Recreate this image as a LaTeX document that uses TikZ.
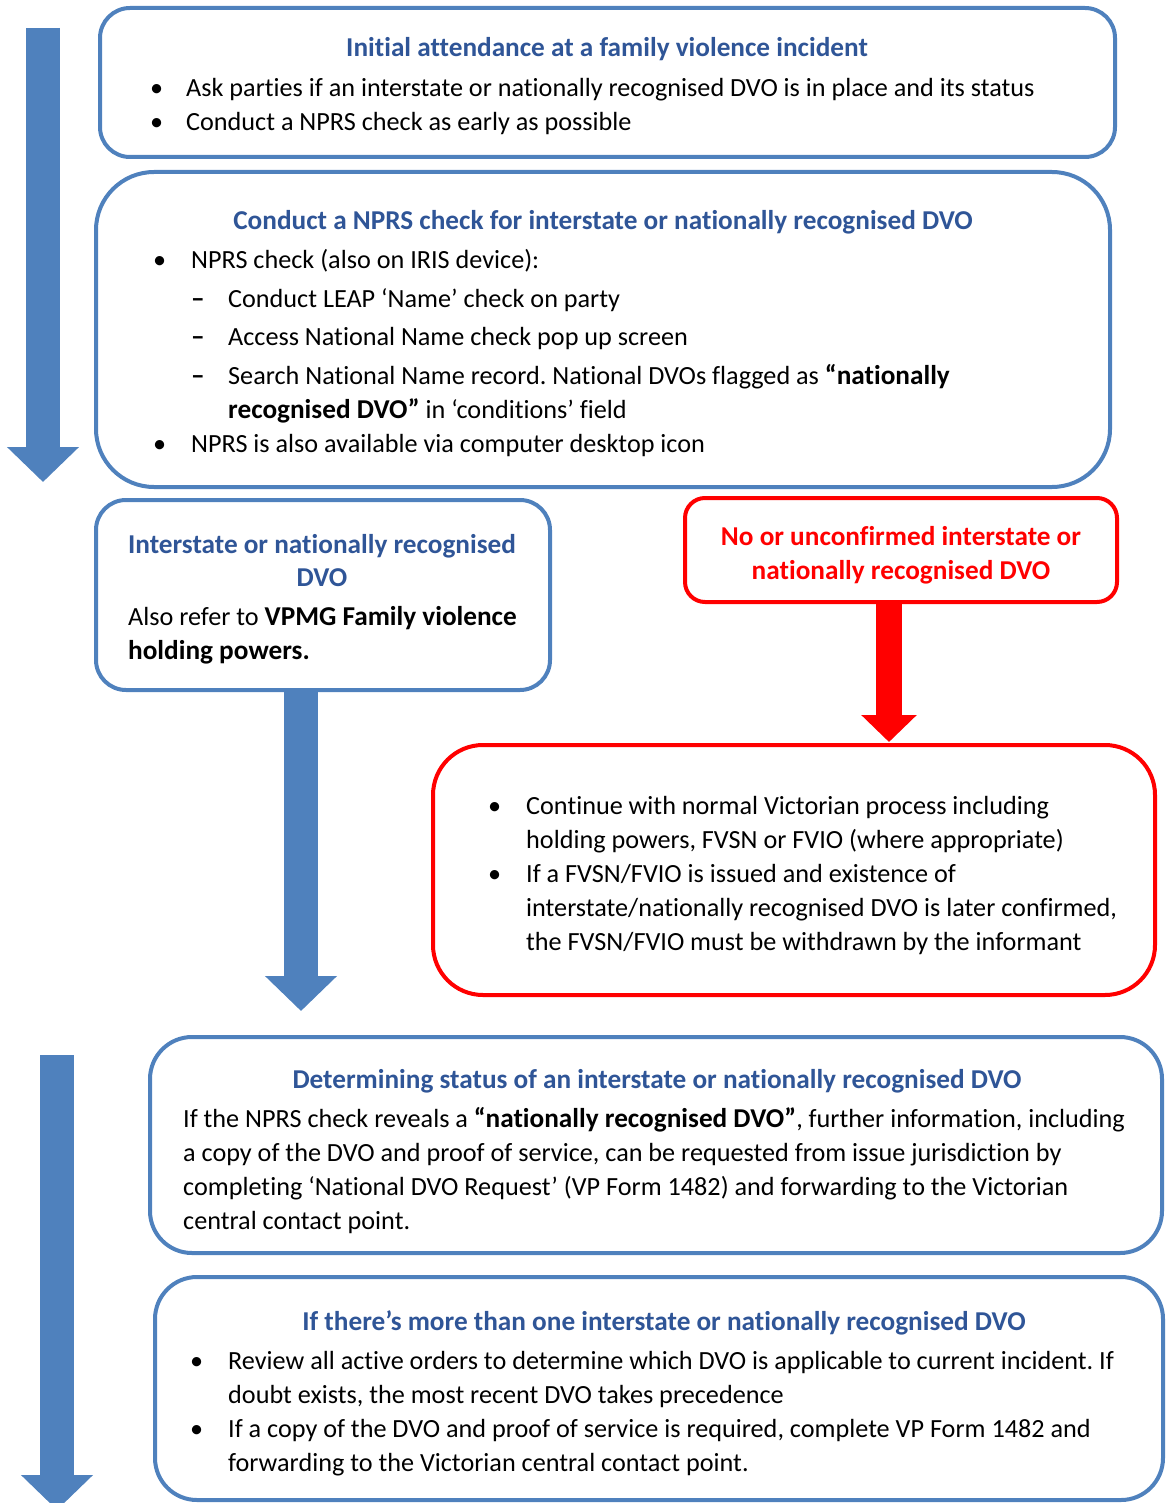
\documentclass[tikz,border=0pt]{standalone}
\usepackage{fontspec}
\setmainfont{Carlito}[Ligatures={NoCommon}, BoldFeatures={Scale=1.04}]
\usetikzlibrary{arrows.meta}
\frenchspacing

\definecolor{boxblue}{RGB}{79,129,189}
\definecolor{titleblue}{RGB}{47,85,151}
\definecolor{alertred}{RGB}{255,0,0}

\begin{document}
\begin{tikzpicture}[
        x=1pt, y=-1pt,
        every node/.style={font=\fontsize{26.2pt}{34pt}\selectfont, inner sep=0pt},
        bluebox/.style={
            draw=boxblue,
            line width=4pt,
            rounded corners=#1
        },
        bluebox/.default=30pt,
        redbox/.style={
            draw=alertred,
            line width=4pt,
            rounded corners=#1
        },
        redbox/.default=30pt,
        heading/.style={text=titleblue, font=\fontsize{26.2pt}{34pt}\selectfont\bfseries, anchor=base},
        redheading/.style={text=alertred, font=\fontsize{26.2pt}{34pt}\selectfont\bfseries, anchor=base},
        body/.style={anchor=base west},
        bluearrow/.style={draw=boxblue, line width=34pt, -{Triangle[length=35pt, width=70pt]}},
        redarrow/.style={draw=alertred, line width=26pt, -{Triangle[length=27pt, width=54pt]}}
    ]
    \useasboundingbox (0,0) rectangle (1167,1503);

    % Boxes
    \node[bluebox, minimum width=1015pt, minimum height=149pt] (attend) at (607.5,82.5) {};
    \node[bluebox=58pt, minimum width=1014pt, minimum height=315pt] (nprs) at (603,329.5) {};
    \node[bluebox, minimum width=454pt, minimum height=190pt] (found) at (323,595) {};
    \node[redbox=20pt, minimum width=432pt, minimum height=104pt] (nodvo) at (901,550) {};
    \node[redbox=50pt, minimum width=722pt, minimum height=250pt] (normal) at (794,870) {};
    \node[bluebox=42pt, minimum width=1012pt, minimum height=216pt] (status) at (656,1145) {};
    \node[bluebox=42pt, minimum width=1008pt, minimum height=223pt] (multi) at (659,1388.5) {};

    % Initial attendance
    \node[heading] (attendhead) at (607,57) {Initial attendance at a family violence incident};
    \node[body] (attendlist) at (150,97) {\begin{tabular}[t]{@{}p{36pt}@{}l@{}}
        \textbullet & Ask parties if an interstate or nationally recognised DVO is in place and its status\\
        \textbullet & Conduct a NPRS check as early as possible
    \end{tabular}};

    % NPRS check
    \node[heading] (nprshead) at (603,230) {Conduct a NPRS check for interstate or nationally recognised DVO};
    \node[body] (nprslist) at (153,269) {\begin{tabular}[t]{@{}p{38pt}@{}p{37pt}@{}l@{}}
        \textbullet & \multicolumn{2}{@{}l@{}}{NPRS check (also on IRIS device):}\\[5pt]
        & \textbf{–} & Conduct LEAP ‘Name’ check on party\\[4pt]
        & \textbf{–} & Access National Name check pop up screen\\[5pt]
        & \textbf{–} & Search National Name record. National DVOs flagged as \textbf{“nationally}\\
        & & \textbf{recognised DVO”} in ‘conditions’ field\\
        \textbullet & \multicolumn{2}{@{}l@{}}{NPRS is also available via computer desktop icon}
    \end{tabular}};

    % DVO found
    \node[heading] (foundhead) at (322,553) {\begin{tabular}[t]{@{}c@{}}
        Interstate or nationally recognised\\[-1pt]
        DVO
    \end{tabular}};
    \node[body] (foundtext) at (128,625) {\begin{tabular}[t]{@{}l@{}}
        Also refer to \textbf{VPMG Family violence}\\
        \textbf{holding powers.}
    \end{tabular}};

    % No DVO
    \node[redheading] (nodvohead) at (901,545) {\begin{tabular}[t]{@{}c@{}}
        No or unconfirmed interstate or\\
        nationally recognised DVO
    \end{tabular}};
    \node[body] (normallist) at (488,814) {\begin{tabular}[t]{@{}p{38pt}@{}l@{}}
        \textbullet & Continue with normal Victorian process including\\
        & holding powers, FVSN or FVIO (where appropriate)\\
        \textbullet & If a FVSN/FVIO is issued and existence of\\
        & interstate/nationally recognised DVO is later confirmed,\\
        & the FVSN/FVIO must be withdrawn by the informant
    \end{tabular}};

    % Determining status
    \node[heading] (statushead) at (657,1088) {Determining status of an interstate or nationally recognised DVO};
    \node[body] (statustext) at (183,1127) {\begin{tabular}[t]{@{}l@{}}
        If the NPRS check reveals a \textbf{“nationally recognised DVO”}, further information, including\\
        a copy of the DVO and proof of service, can be requested from issue jurisdiction by\\
        completing ‘National DVO Request’ (VP Form 1482) and forwarding to the Victorian\\
        central contact point.
    \end{tabular}};

    % More than one DVO
    \node[heading] (multihead) at (664,1330) {If there’s more than one interstate or nationally recognised DVO};
    \node[body] (multilist) at (190,1369) {\begin{tabular}[t]{@{}p{38pt}@{}l@{}}
        \textbullet & Review all active orders to determine which DVO is applicable to current incident. If\\
        & doubt exists, the most recent DVO takes precedence\\
        \textbullet & If a copy of the DVO and proof of service is required, complete VP Form 1482 and\\
        & forwarding to the Victorian central contact point.
    \end{tabular}};

    % Arrows
    \coordinate (flowtop) at (43,28);
    \coordinate (flowend) at (43,482);
    \coordinate (lowtop) at (57,1055);
    \coordinate (lowend) at (57,1510);
    \coordinate (foundtip) at (301,1011);
    \coordinate (redtip) at (889,742);

    \draw[bluearrow] (flowtop) -- (flowend);
    \draw[bluearrow] (lowtop) -- (lowend);
    \draw[bluearrow] (found.south -| foundtip) -- (foundtip);
    \draw[redarrow] (nodvo.south -| redtip) -- (redtip);

\end{tikzpicture}
\end{document}
